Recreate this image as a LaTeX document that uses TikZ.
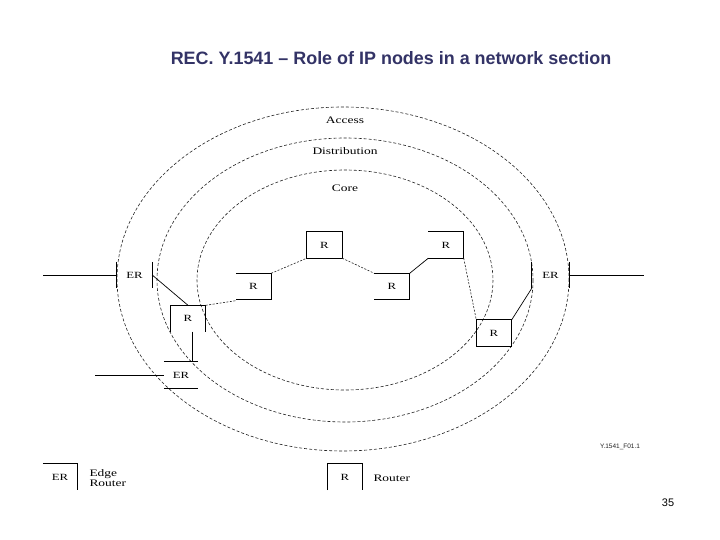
\documentclass[tikz,border=0pt]{standalone}
\usepackage{fontspec}
\setmainfont{Liberation Serif}
\setsansfont{Liberation Sans}
\newfontfamily\wideserif[FakeStretch=1.35]{Liberation Serif}
\usepackage{xcolor}
\usepackage{tikz}
\definecolor{recNavy}{HTML}{333366}
\definecolor{recInk}{HTML}{222222}

\begin{document}
\begin{tikzpicture}[
  x=1bp, y=-1bp,
  rbox/.style={minimum width=35bp, minimum height=26bp, inner sep=0pt,
    font=\wideserif\fontsize{9.5}{10}\selectfont},
  ring/.style={dash pattern=on 3bp off 2bp, line width=.6pt, draw=recInk},
  wire/.style={line width=.7pt, draw=black},
  link/.style={line width=.6pt, dash pattern=on 2bp off 1.5bp, draw=recInk},
  layer/.style={font=\wideserif\fontsize{10}{11}\selectfont},
  legtext/.style={font=\wideserif\fontsize{10}{10.5}\selectfont, anchor=west, align=left}
]
  \useasboundingbox[fill=white] (0,0) rectangle (720,540);
  \node[font=\sffamily\bfseries\fontsize{18}{20}\selectfont, text=recNavy] (title) at (391,58) {REC. Y.1541 -- Role of IP nodes in a network section};

  \draw[ring] (343,279) ellipse [x radius=226, y radius=172];
  \draw[ring] (345,280) ellipse [x radius=188, y radius=142];
  \draw[ring] (345,280) ellipse [x radius=148, y radius=110];
  \node[layer] (access) at (345,120) {Access};
  \node[layer] (distr) at (345,151) {Distribution};
  \node[layer] (core) at (345,188) {Core};

  \node[rbox] (r1) at (324.5,245) {R};
  \node[rbox] (r2) at (253.5,286.5) {R};
  \node[rbox] (r3) at (392,286.5) {R};
  \node[rbox] (r4) at (446,245) {R};
  \node[rbox] (r5) at (494,333) {R};
  \node[rbox] (r6) at (188,318.5) {R};
  \node[rbox] (erl) at (134.5,275) {ER};
  \node[rbox, minimum width=37bp] (err) at (550.5,275) {ER};
  \node[rbox, minimum width=34bp] (erb) at (181,375) {ER};

  \draw[wire] (r1.south west) rectangle (r1.north east);
  \draw[wire] (r2.north west) -- (r2.north east) -- (r2.south east) -- (r2.south west);
  \draw[wire] (r3.north west) -- (r3.north east) -- (r3.south east) -- (r3.south west);
  \draw[wire] (r4.north west) -- (r4.north east) -- (r4.south east) -- (r4.south west);
  \draw[wire] (r5.south west) rectangle (r5.north east);
  \draw[wire] (r6.south west) -- (r6.north west) -- (r6.north east) -- (r6.south east);
  \draw[wire] (erl.north west) -- (erl.south west) (erl.north east) -- (erl.south east);
  \draw[wire] (err.north west) -- (err.south west) (err.north east) -- (err.south east);
  \draw[wire] (erb.north west) -- (erb.north east) (erb.south west) -- (erb.south east);

  \coordinate (inl) at (43,275);
  \coordinate (inr) at (644,275);
  \coordinate (inb) at (95,375);
  \draw[wire] (inl) -- (erl.west);
  \draw[wire] (err.east) -- (inr);
  \draw[wire] (inb) -- (erb.west);
  \draw[wire] (erl.east) -- (r6.north);
  \draw[wire] ([xshift=4bp]r6.south) -- ([xshift=4bp]r6.south |- erb.north);
  \draw[link] (r6.north east) -- ([yshift=-1bp]r2.south west);
  \draw[link] (r2.north east) -- (r1.south west);
  \draw[link] (r1.south east) -- (r3.north west);
  \draw[wire] (r3.north east) -- (r4.south west);
  \draw[link] (r4.south east) -- (r5.north west);
  \draw[wire] (r5.north east) -- (err.south west);

  \node[font=\sffamily\fontsize{6.5}{7}\selectfont, text=recInk] (fig) at (620,447) {Y.1541\_F01.1};

  \node[rbox, minimum width=34bp] (leger) at (60,477) {ER};
  \draw[wire] (leger.north west) -- (leger.north east) -- (leger.south east);
  \node[legtext] (legert) at (86,478) {Edge\\Router};
  \node[rbox] (legr) at (345,477) {R};
  \draw[wire] (legr.south west) -- (legr.north west) -- (legr.north east) -- (legr.south east);
  \node[legtext] (legrt) at (370,478) {Router};

  \node[font=\sffamily\fontsize{11}{12}\selectfont] (page) at (668,503) {35};
\end{tikzpicture}
\end{document}
